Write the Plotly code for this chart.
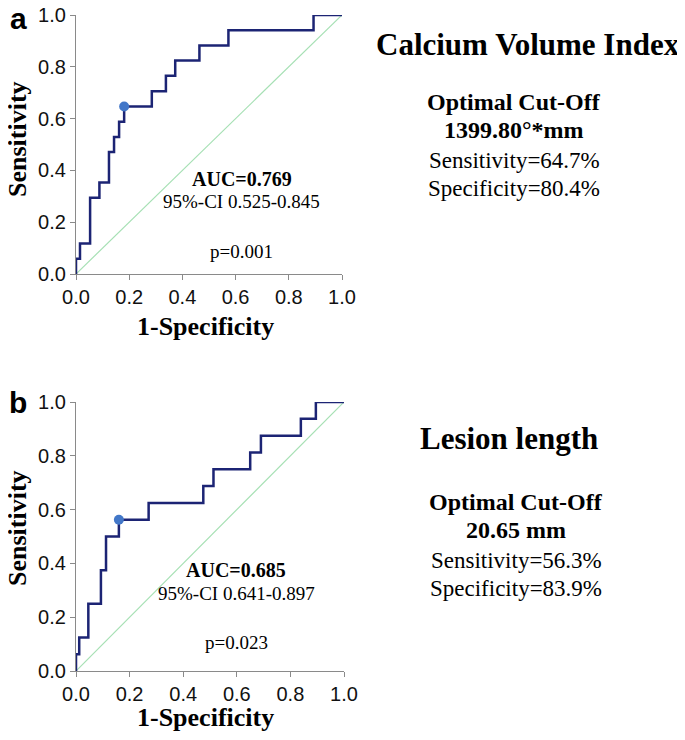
"""ROC curves for calcium volume index and lesion length"""
import plotly.graph_objects as go

# panel a: calcium volume index
A_FPR = [0, 0, 0.015, 0.053, 0.088, 0.124, 0.143, 0.162, 0.181, 0.285,
         0.338, 0.373, 0.464, 0.573, 0.893, 1.0]
A_TPR = [0, 0.059, 0.118, 0.294, 0.353, 0.471, 0.529, 0.588, 0.647, 0.706,
         0.765, 0.824, 0.882, 0.941, 1.0, 1.0]
A_CUT = (0.181, 0.647)

# panel b: lesion length
B_FPR = [0, 0, 0.012, 0.046, 0.093, 0.112, 0.160, 0.271, 0.475, 0.513,
         0.650, 0.690, 0.839, 0.895, 1.0]
B_TPR = [0, 0.0625, 0.125, 0.25, 0.375, 0.5, 0.5625, 0.625, 0.6875, 0.75,
         0.8125, 0.875, 0.9375, 1.0, 1.0]
B_CUT = (0.160, 0.5625)

TICKS = [0, 0.2, 0.4, 0.6, 0.8, 1.0]
TICK_TEXT = ["0.0", "0.2", "0.4", "0.6", "0.8", "1.0"]

SERIF = "Liberation Serif"
SANS = "Liberation Sans"
NAVY = "#1c2474"
DOT = "#4277c8"
DIAG = "#a6e0b4"
AXIS = "#8a8a8a"

# the page body has an 8px margin, so the figure sits at (8, 8)
W, H, OFF = 677, 724, 8


def fx(px):
    """page pixel column -> paper x"""
    return (px - OFF) / W


def fy(py):
    """page pixel row -> paper y"""
    return 1 - (py - OFF) / H


fig = go.Figure()

for xa, ya, fpr, tpr, cut in (("x", "y", A_FPR, A_TPR, A_CUT),
                              ("x2", "y2", B_FPR, B_TPR, B_CUT)):
    fig.add_trace(go.Scatter(x=[0, 1], y=[0, 1], xaxis=xa, yaxis=ya,
                             mode="lines", line=dict(color=DIAG, width=1.2),
                             hoverinfo="skip"))
    fig.add_trace(go.Scatter(x=fpr, y=tpr, xaxis=xa, yaxis=ya,
                             mode="lines", line_shape="hv",
                             line=dict(color=NAVY, width=2.5)))
    fig.add_trace(go.Scatter(x=[cut[0]], y=[cut[1]], xaxis=xa, yaxis=ya,
                             mode="markers",
                             marker=dict(color=DOT, size=10)))

axis_style = dict(range=[0, 1], tickvals=TICKS, ticktext=TICK_TEXT,
                  showgrid=False, zeroline=False, showline=True,
                  automargin=False, ticklabeloverflow="allow",
                  linecolor=AXIS, linewidth=1.2,
                  ticks="outside", ticklen=5, tickcolor=AXIS,
                  tickfont=dict(family=SANS, size=20, color="#111"))

fig.update_layout(
    width=W, height=H, showlegend=False,
    plot_bgcolor="white", paper_bgcolor="white",
    margin=dict(l=0, r=0, t=0, b=0),
    xaxis=dict(domain=[fx(76), fx(342)], anchor="y", **axis_style),
    yaxis=dict(domain=[fy(274), fy(15)], anchor="x", **axis_style),
    xaxis2=dict(domain=[fx(76), fx(344)], anchor="y2", **axis_style),
    yaxis2=dict(domain=[fy(671), fy(402)], anchor="x2", **axis_style),
)


def note(text, x, y, size, bold=False, family=SERIF, angle=0):
    """Place a text line centred on page pixel (x, y)"""
    if bold:
        text = "<b>" + text + "</b>"
    fig.add_annotation(text=text, x=fx(x), y=fy(y),
                       xref="paper", yref="paper", showarrow=False,
                       xanchor="center", yanchor="middle", textangle=angle,
                       font=dict(family=family, size=size, color="black"))


# panel labels
note("a", 18, 18, 30, bold=True, family=SANS)
note("b", 18, 402, 30, bold=True, family=SANS)

# axis titles
note("1-Specificity", 206, 326, 26, bold=True)
note("1-Specificity", 206, 717, 26, bold=True)
note("Sensitivity", 17, 139, 26, bold=True, angle=-90)
note("Sensitivity", 17, 528, 26, bold=True, angle=-90)

# statistics inside the plots
note("AUC=0.769", 242, 179, 20, bold=True)
note("95%-CI 0.525-0.845", 242, 202, 19)
note("p=0.001", 242, 251, 19)
note("AUC=0.685", 236, 570, 20, bold=True)
note("95%-CI 0.641-0.897", 236, 593, 19)
note("p=0.023", 236, 642, 19)

# right side text blocks
note("Calcium Volume Index", 528, 45, 31, bold=True)
note("Optimal Cut-Off", 514, 102, 24, bold=True)
note("1399.80°*mm", 514, 130, 24, bold=True)
note("Sensitivity=64.7%", 514, 160, 23)
note("Specificity=80.4%", 514, 188, 23)

note("Lesion length", 509, 438, 31, bold=True)
note("Optimal Cut-Off", 516, 502, 24, bold=True)
note("20.65 mm", 516, 530, 24, bold=True)
note("Sensitivity=56.3%", 516, 560, 23)
note("Specificity=83.9%", 516, 588, 23)

fig.write_html("out.html")
